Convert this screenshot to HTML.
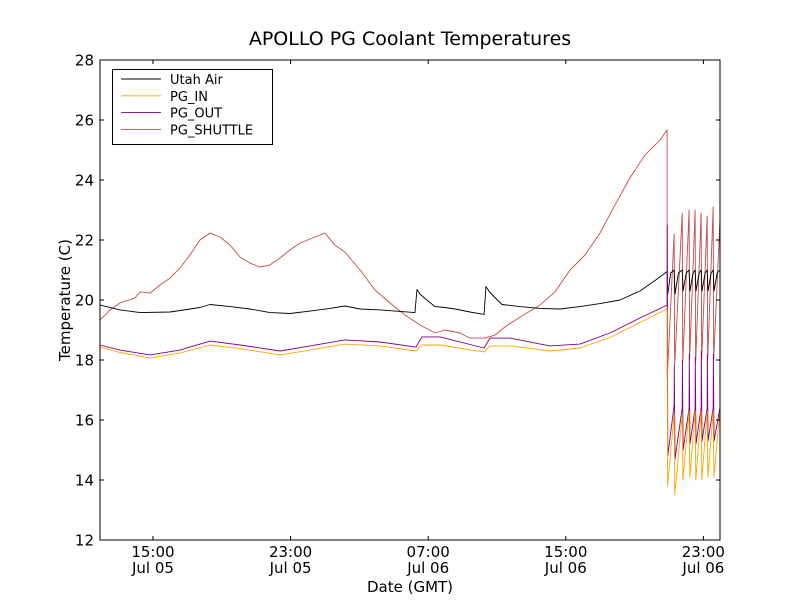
<!DOCTYPE html>
<html><head><meta charset="utf-8"><style>
body{margin:0;background:#fff;}
svg{display:block;font-family:"DejaVu Sans","Liberation Sans",sans-serif;}
</style></head><body>
<svg id="chart" width="800" height="600" viewBox="0 0 800 600">
<rect x="0" y="0" width="800" height="600" fill="#fff"/>
<text x="410" y="45" font-size="19" text-anchor="middle">APOLLO PG Coolant Temperatures</text>
<g id="plot"></g>
<rect x="100" y="60" width="620" height="480" fill="none" stroke="#000" stroke-width="1"/>
<g id="axes"></g>
<text x="410" y="592" font-size="15" text-anchor="middle">Date (GMT)</text>
<text x="70" y="300" font-size="15" text-anchor="middle" transform="rotate(-90 70 300)">Temperature (C)</text>
<g id="legend"></g>
</svg>
<script>
const yTicks=[12,14,16,18,20,22,24,26,28];
const xTicks=[15,23,31,39,47];
const xTickTop=["15:00","23:00","07:00","15:00","23:00"];
const xTickBottom=["Jul 05","Jul 05","Jul 06","Jul 06","Jul 06"];
const seriesNames=["Utah Air","PG_IN","PG_OUT","PG_SHUTTLE"];
const airT=[11.92,13.08,14.25,15.99,17.73,18.32,19.48,20.64,21.80,22.97,24.13,25.29,26.16,27.04,28.20,29.36,30.23,30.35,30.52,30.81,31.40,31.98,32.56,33.43,34.25,34.36,34.59,35.29,36.34,37.50,38.66,39.83,40.99,42.15,43.31,44.19,44.89,44.93,45.10,45.30,45.35,45.55,45.77,45.82,46.00,46.17,46.22,46.40,46.52,46.57,46.75,46.87,46.92,47.10,47.22,47.27,47.45,47.57,47.62,47.80,47.96];
const airV=[19.83,19.67,19.58,19.6,19.75,19.85,19.78,19.7,19.58,19.55,19.63,19.72,19.8,19.7,19.67,19.62,19.58,20.35,20.2,20.05,19.78,19.75,19.7,19.6,19.52,20.45,20.25,19.85,19.78,19.72,19.7,19.78,19.88,20.0,20.3,20.65,20.95,20.2,20.9,21.0,20.2,20.9,21.0,20.3,20.9,21.0,20.3,20.9,21.0,20.3,20.9,21.0,20.3,20.9,21.0,20.3,20.9,21.0,20.3,20.9,21.0];
const inT=[11.92,13.08,14.83,16.57,18.32,20.06,22.39,24.13,26.16,28.20,30.29,30.64,31.69,34.25,34.59,35.76,38.08,39.83,41.57,43.31,44.89,44.92,45.30,45.34,45.77,45.81,46.17,46.21,46.52,46.56,46.87,46.91,47.22,47.26,47.57,47.61,47.96];
const inV=[18.43,18.25,18.07,18.23,18.5,18.38,18.17,18.33,18.53,18.47,18.3,18.5,18.5,18.27,18.47,18.47,18.3,18.4,18.75,19.25,19.7,13.8,16.2,13.5,16.2,14.0,16.3,14.1,16.3,14.0,16.3,14.0,16.3,14.1,16.3,14.1,16.3];
const outT=[11.92,13.08,14.83,16.57,18.32,20.06,22.39,24.13,26.16,28.20,30.29,30.64,31.69,34.25,34.59,35.76,38.08,39.83,41.57,43.31,44.89,44.90,44.93,45.30,45.31,45.35,45.77,45.78,45.82,46.17,46.18,46.22,46.52,46.53,46.57,46.87,46.88,46.92,47.22,47.23,47.27,47.57,47.58,47.62,47.96];
const outV=[18.5,18.33,18.17,18.33,18.63,18.5,18.3,18.47,18.67,18.6,18.43,18.77,18.77,18.4,18.73,18.73,18.47,18.53,18.9,19.4,19.83,22.5,14.8,16.5,17.8,14.7,16.4,18.0,15.0,16.4,18.2,15.2,16.4,18.1,15.2,16.4,18.3,15.3,16.4,18.2,15.3,16.4,18.2,15.3,16.4];
const shuttleT=[11.92,12.50,13.08,13.95,14.25,14.83,15.41,15.99,16.57,17.15,17.73,18.32,18.90,19.48,20.06,20.64,21.22,21.80,22.39,22.97,23.55,24.42,25.00,25.58,26.16,27.04,27.91,28.78,29.65,30.52,31.40,31.98,32.85,33.43,34.30,34.88,35.46,36.34,37.50,38.37,39.25,40.12,40.99,41.86,42.73,43.60,44.48,44.89,44.90,45.30,45.33,45.77,45.80,46.17,46.20,46.52,46.55,46.87,46.90,47.22,47.25,47.57,47.60,47.96];
const shuttleV=[19.33,19.67,19.9,20.07,20.27,20.23,20.5,20.73,21.07,21.5,22.0,22.23,22.1,21.83,21.43,21.23,21.1,21.17,21.4,21.67,21.9,22.1,22.23,21.83,21.6,21.0,20.33,19.9,19.5,19.17,18.9,19.0,18.9,18.73,18.73,18.83,19.1,19.43,19.83,20.27,21.0,21.5,22.23,23.17,24.07,24.83,25.33,25.67,17.4,22.2,17.8,22.9,17.9,23.0,18.0,23.0,17.9,22.9,18.0,22.8,18.0,23.1,18.0,22.6];
const colors=["#000000","#ffa500","#800080","#c44a4a"];

const NS="http://www.w3.org/2000/svg";
const xS=t=>100+(t-11.92)*17.2;
const yS=v=>540-(v-12)*30;
function mk(tag,attrs,parent){const e=document.createElementNS(NS,tag);for(const k in attrs)e.setAttribute(k,attrs[k]);parent.appendChild(e);return e;}
const plot=document.getElementById('plot');
const axes=document.getElementById('axes');
const allT=[airT,inT,outT,shuttleT], allV=[airV,inV,outV,shuttleV];
const lineNames=["line-utah-air","line-pg-in","line-pg-out","line-pg-shuttle"];
[3,0,2,1].forEach(i=>{
  const pts=allT[i].map((t,j)=>xS(t).toFixed(2)+","+yS(allV[i][j]).toFixed(2)).join(" ");
  const p=mk('polyline',{points:pts,fill:"none",stroke:colors[i],"stroke-width":0.9,"stroke-linejoin":"round"},plot);
  
  
});
yTicks.forEach(v=>{
  const y=yS(v);
  const a=mk('line',{x1:100,x2:104,y1:y,y2:y,stroke:"#000"},axes);
  
  
  const b=mk('line',{x1:716,x2:720,y1:y,y2:y,stroke:"#000"},axes);
  
  
  const tx=mk('text',{x:94,y:y+5.5,"font-size":15,"text-anchor":"end"},axes);
  tx.textContent=v;
  
  
});
xTicks.forEach((t,i)=>{
  const x=xS(t);
  const a=mk('line',{x1:x,x2:x,y1:536,y2:540,stroke:"#000"},axes);
  
  
  const b=mk('line',{x1:x,x2:x,y1:60,y2:64,stroke:"#000"},axes);
  
  
  const t1=mk('text',{x:x,y:557,"font-size":15,"text-anchor":"middle"},axes);
  t1.textContent=xTickTop[i];
  
  
  const t2=mk('text',{x:x,y:573,"font-size":15,"text-anchor":"middle"},axes);
  t2.textContent=xTickBottom[i];
  
  
});
const lg=document.getElementById('legend');
const box=mk('rect',{x:112.5,y:69.5,width:160,height:75,fill:"#fff",stroke:"#000"},lg);


seriesNames.forEach((n,i)=>{
  const y=79+i*16.8;
  const l=mk('line',{x1:121,x2:161,y1:y,y2:y,stroke:colors[i],"stroke-width":0.9},lg);
  
  
  const t=mk('text',{x:170,y:y+5,"font-size":13},lg);
  t.textContent=n;
  
  
});
</script>
</body></html>
